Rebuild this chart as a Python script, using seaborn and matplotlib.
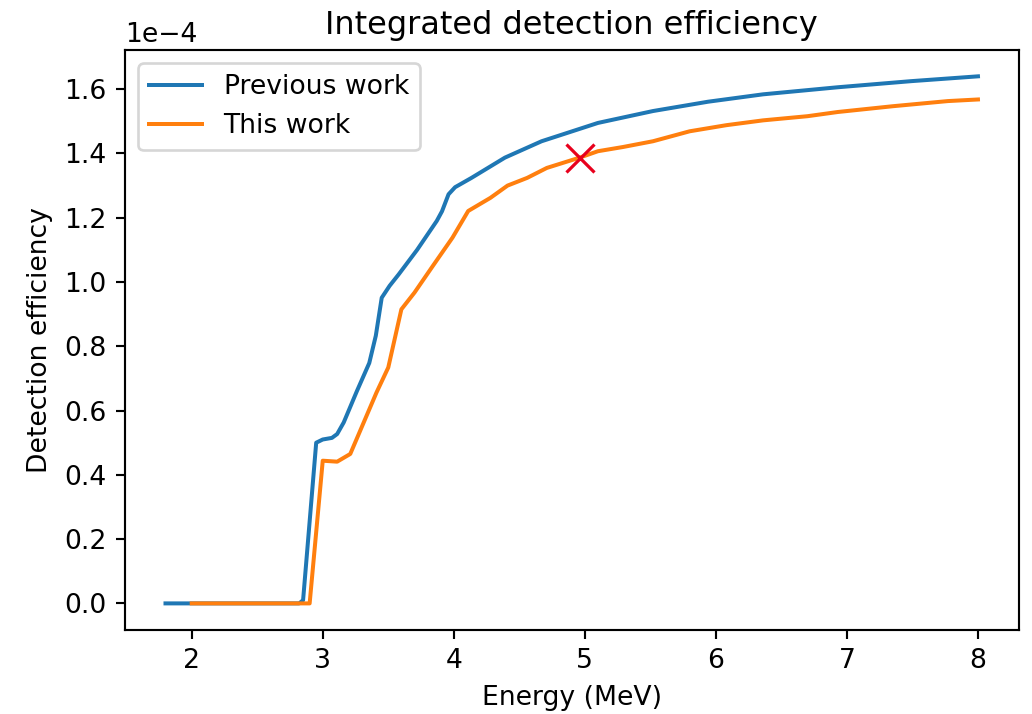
import matplotlib
matplotlib.use("Agg")
import matplotlib.pyplot as plt
from matplotlib.ticker import MultipleLocator
import seaborn as sns
import numpy as np
import pandas as pd

prev_energy = [1.8, 2.0, 2.82, 2.85, 2.95, 3.0, 3.07, 3.11, 3.16, 3.26, 3.355, 3.405, 3.45,
               3.51, 3.58, 3.72, 3.87, 3.91, 3.96, 4.01, 4.135, 4.39, 4.67, 5.10,
               5.52, 5.94, 6.36, 6.93, 7.49, 8.0]
prev_eff = [0, 0, 0, 0.01, 0.50, 0.51, 0.515, 0.527, 0.563, 0.66, 0.748, 0.833, 0.951,
            0.988, 1.024, 1.10, 1.19, 1.22, 1.273, 1.295, 1.324, 1.387, 1.438, 1.495,
            1.532, 1.561, 1.584, 1.606, 1.625, 1.640]

this_energy = [2.0, 2.9, 3.0, 3.11, 3.21, 3.41, 3.50, 3.60, 3.70, 3.84, 3.99, 4.11,
               4.28, 4.41, 4.56, 4.71, 4.96, 5.10, 5.29, 5.52, 5.80, 6.08, 6.36,
               6.70, 6.93, 7.35, 7.77, 8.0]
this_eff = [0, 0, 0.444, 0.441, 0.465, 0.656, 0.734, 0.915, 0.967, 1.05, 1.138, 1.221,
            1.262, 1.30, 1.324, 1.355, 1.387, 1.407, 1.42, 1.438, 1.469, 1.488, 1.503,
            1.516, 1.529, 1.547, 1.563, 1.568]

marker_energy = [4.96]
marker_eff = [1.385]

scale = 1e-4

fig, ax = plt.subplots(figsize=(1032 / 192, 714 / 192), dpi=192)
fig.subplots_adjust(left=0.121, right=0.987, top=0.930, bottom=0.118)

df_prev = pd.DataFrame({"E": prev_energy, "eff": np.array(prev_eff) * scale})
df_this = pd.DataFrame({"E": this_energy, "eff": np.array(this_eff) * scale})

sns.lineplot(data=df_prev, x="E", y="eff", ax=ax, color="#1f77b4", lw=1.5,
             label="Previous work", estimator=None, sort=False)
sns.lineplot(data=df_this, x="E", y="eff", ax=ax, color="#ff7f0e", lw=1.5,
             label="This work", estimator=None, sort=False)
ax.plot(marker_energy, np.array(marker_eff) * scale, "x", color="#e8001c",
        ms=10.5, mew=1.2, zorder=5)

ax.yaxis.set_major_locator(MultipleLocator(0.2e-4))
ax.ticklabel_format(axis="y", style="sci", scilimits=(0, 0))
ax.set_title("Integrated detection efficiency", fontsize=12)
ax.set_xlabel("Energy (MeV)")
ax.set_ylabel("Detection efficiency")
ax.legend(loc="upper left")

fig.savefig("out.png", dpi=192)
